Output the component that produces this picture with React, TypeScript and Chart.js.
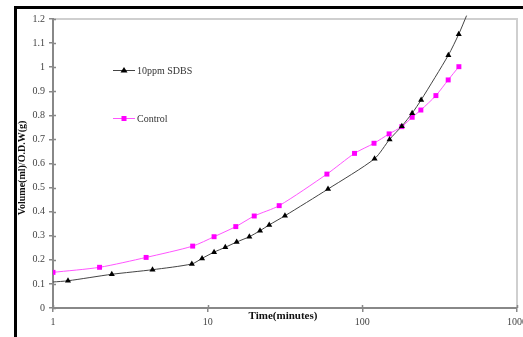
import React, { useEffect, useRef } from "react";
import { Chart, registerables } from "chart.js";

Chart.register(...registerables);

const sdbsTime = [1, 1.25, 2.4, 4.4, 7.9, 9.2, 11, 13, 15.4, 18.6, 21.8, 25, 31.6, 60, 120, 150, 180, 210, 240, 360, 420, 472];
const sdbsVolume = [0.108, 0.113, 0.14, 0.159, 0.183, 0.206, 0.232, 0.252, 0.274, 0.296, 0.321, 0.345, 0.383, 0.494, 0.62, 0.7, 0.755, 0.809, 0.864, 1.05, 1.137, 1.214];

const controlTime = [1, 2, 4, 8, 11, 15.2, 20, 29, 59, 89, 119, 149, 180, 210, 239, 299, 359, 421];
const controlVolume = [0.148, 0.169, 0.21, 0.257, 0.296, 0.338, 0.382, 0.425, 0.556, 0.642, 0.684, 0.723, 0.753, 0.792, 0.822, 0.882, 0.947, 1.002];

const xTickValues = [1, 10, 100, 1000];
const seriesNames = ["10ppm SDBS", "Control"];
const xTitle = "Time(minutes)";
const yTitle = "Volume(ml)/O.D.W(g)";

const SERIF = "'Liberation Serif', 'DejaVu Serif', serif";

export default function App() {
  const ref = useRef<HTMLCanvasElement | null>(null);

  useEffect(() => {
    if (!ref.current) return;

    const sdbsRadius = sdbsTime.map((_, i) => (i === 0 || i === sdbsTime.length - 1 ? 0 : 3.5));

    const decor = {
      id: "decor",
      beforeDraw(chart: any) {
        const { ctx, chartArea: a } = chart;
        ctx.save();
        ctx.fillStyle = "#ffffff";
        ctx.fillRect(0, 0, chart.width, chart.height);
        ctx.fillStyle = "#000000";
        ctx.fillRect(14, 6, chart.width - 14, 3);
        ctx.fillRect(14, 6, 3, chart.height - 6);
        ctx.strokeStyle = "#cfcfcf";
        ctx.lineWidth = 2;
        ctx.beginPath();
        ctx.moveTo(a.left, a.top);
        ctx.lineTo(a.right, a.top);
        ctx.lineTo(a.right, a.bottom);
        ctx.stroke();
        ctx.restore();
      },
      afterDraw(chart: any) {
        const { ctx, chartArea: a, scales } = chart;
        ctx.save();
        ctx.strokeStyle = "#888888";
        ctx.lineWidth = 1.5;
        ctx.beginPath();
        scales.y.ticks.forEach((t: any) => {
          const py = Math.round(scales.y.getPixelForValue(t.value)) + 0.5;
          ctx.moveTo(a.left, py);
          ctx.lineTo(a.left + 3, py);
        });
        xTickValues.forEach((v) => {
          const px = Math.round(scales.x.getPixelForValue(v)) + 0.5;
          ctx.moveTo(px, a.bottom);
          ctx.lineTo(px, a.bottom - 3);
        });
        ctx.stroke();

        const items = [
          { name: seriesNames[0], y: 70, color: "#444444", mark: "#000000", style: "triangle" },
          { name: seriesNames[1], y: 118, color: "#ff55ff", mark: "#ff00ff", style: "rect" },
        ];
        items.forEach((it) => {
          ctx.strokeStyle = it.color;
          ctx.lineWidth = 1;
          ctx.beginPath();
          ctx.moveTo(113, it.y + 0.5);
          ctx.lineTo(135, it.y + 0.5);
          ctx.stroke();
          ctx.fillStyle = it.mark;
          if (it.style === "triangle") {
            ctx.beginPath();
            ctx.moveTo(124, it.y - 3);
            ctx.lineTo(127.5, it.y + 2.5);
            ctx.lineTo(120.5, it.y + 2.5);
            ctx.closePath();
            ctx.fill();
          } else {
            ctx.fillRect(121.5, it.y - 2, 5, 5);
          }
          ctx.fillStyle = "#333333";
          ctx.font = `10px ${SERIF}`;
          ctx.textAlign = "left";
          ctx.textBaseline = "middle";
          ctx.fillText(it.name, 137, it.y + 1);
        });

        ctx.fillStyle = "#111111";
        ctx.font = `bold 11px ${SERIF}`;
        ctx.textAlign = "center";
        ctx.textBaseline = "middle";
        ctx.fillText(xTitle, 283, 316);
        ctx.translate(22, 168);
        ctx.rotate(-Math.PI / 2);
        ctx.font = `bold 10px ${SERIF}`;
        ctx.fillText(yTitle, 0, 0);
        ctx.restore();
      },
    };

    const chart = new Chart(ref.current, {
      type: "line",
      data: {
        datasets: [
          {
            label: seriesNames[0],
            data: sdbsTime.map((t, i) => ({ x: t, y: sdbsVolume[i] })),
            borderColor: "#444444",
            borderWidth: 1,
            pointStyle: "triangle",
            pointRadius: sdbsRadius,
            pointBackgroundColor: "#000000",
            pointBorderColor: "#000000",
            pointBorderWidth: 0,
            tension: 0.25,
            clip: false as any,
          },
          {
            label: seriesNames[1],
            data: controlTime.map((t, i) => ({ x: t, y: controlVolume[i] })),
            borderColor: "#ff55ff",
            borderWidth: 1,
            pointStyle: "rect",
            pointRadius: 3.5,
            pointBackgroundColor: "#ff00ff",
            pointBorderColor: "#ff00ff",
            pointBorderWidth: 0,
            tension: 0.25,
          },
        ],
      },
      options: {
        responsive: false,
        animation: false,
        layout: { padding: { top: 19, right: 6, left: 0, bottom: 0 } },
        plugins: { legend: { display: false }, tooltip: { enabled: false } },
        scales: {
          x: {
            type: "logarithmic",
            min: 1,
            max: 1000,
            afterBuildTicks: (scale: any) => {
              scale.ticks = xTickValues.map((v) => ({ value: v }));
            },
            afterFit: (scale: any) => {
              scale.height = 29;
              scale.paddingLeft = 0;
              scale.paddingRight = 0;
            },
            ticks: {
              autoSkip: false,
              maxRotation: 0,
              padding: 4,
              color: "#444444",
              font: { family: SERIF, size: 10 },
              callback: (v: any) => String(v),
            },
            grid: { drawOnChartArea: false, drawTicks: true, tickLength: 4, color: "#888888", lineWidth: 1.5 },
            border: { display: true, color: "#888888", width: 2 },
          },
          y: {
            min: 0,
            max: 1.2,
            afterFit: (scale: any) => {
              scale.width = 53;
              scale.paddingTop = 0;
              scale.paddingBottom = 0;
            },
            ticks: {
              stepSize: 0.1,
              padding: 4,
              color: "#444444",
              font: { family: SERIF, size: 10 },
              callback: (v: any) => String(Number(Number(v).toFixed(1))),
            },
            grid: { drawOnChartArea: false, drawTicks: true, tickLength: 4, color: "#888888", lineWidth: 1.5 },
            border: { display: true, color: "#888888", width: 2 },
          },
        },
      },
      plugins: [decor],
    });

    return () => chart.destroy();
  }, []);

  return (
    <div style={{ position: "fixed", left: 0, top: 0, width: 523, height: 337, background: "#fff" }}>
      <canvas ref={ref} width={523} height={337} style={{ width: 523, height: 337, display: "block" }} />
    </div>
  );
}
